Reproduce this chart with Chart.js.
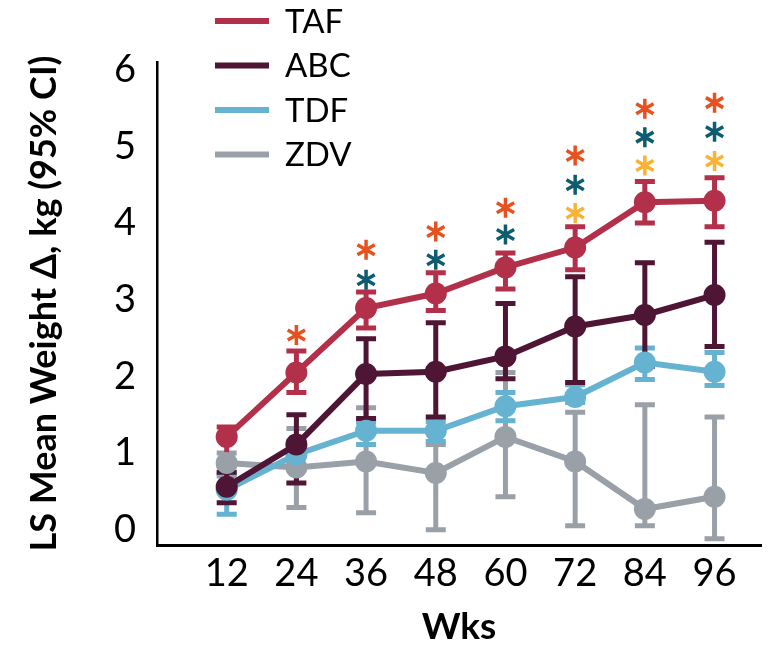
<!DOCTYPE html>
<html>
<head>
<meta charset="utf-8">
<script src="https://cdn.jsdelivr.net/npm/chart.js@4"></script>
<style>
  body { margin: 0; background: #fff; }
  canvas { display: block; }
</style>
</head>
<body>
<canvas id="chart" width="772" height="646"></canvas>
<script>
const weeks = [12, 24, 36, 48, 60, 72, 84, 96];
const yTicks = [0, 1, 2, 3, 4, 5, 6];

const tafMean = [1.21, 2.05, 2.89, 3.08, 3.42, 3.68, 4.27, 4.29];
const tafLow  = [0.83, 1.79, 2.63, 2.86, 3.14, 3.39, 4.00, 3.95];
const tafHigh = [1.34, 2.33, 3.10, 3.35, 3.61, 3.95, 4.54, 4.59];

const abcMean = [0.56, 1.11, 2.03, 2.06, 2.26, 2.65, 2.80, 3.06];
const abcLow  = [0.35, 0.61, 1.45, 1.47, 1.97, 1.92, 2.13, 2.39];
const abcHigh = [0.75, 1.50, 2.49, 2.70, 2.95, 3.30, 3.48, 3.75];

const tdfMean = [0.52, 0.98, 1.29, 1.29, 1.61, 1.73, 2.18, 2.06];
const tdfLow  = [0.20, 0.80, 1.11, 1.15, 1.42, 1.66, 1.96, 1.88];
const tdfHigh = [0.73, 1.15, 1.40, 1.41, 1.79, 1.89, 2.37, 2.31];

const zdvMean = [0.87, 0.81, 0.89, 0.74, 1.21, 0.89, 0.27, 0.43];
const zdvLow  = [0.70, 0.29, 0.22, 0.00, 0.43, 0.05, 0.05, -0.12];
const zdvHigh = [1.00, 1.32, 1.59, 1.11, 2.05, 1.53, 1.63, 1.47];

// significance asterisks, placed at these y values
const starOrange = [null, 2.54, 3.65, 3.89, 4.20, 4.88, 5.49, 5.57];
const starTeal   = [null, null, 3.26, 3.52, 3.85, 4.50, 5.12, 5.19];
const starYellow = [null, null, null, null, null, 4.13, 4.75, 4.81];

const colors = {
  TAF: '#B3304B',
  ABC: '#4E1535',
  TDF: '#66B3D1',
  ZDV: '#9AA0A8'
};
const starColors = ['#E6511F', '#0D5C70', '#F9B234'];

const series = [
  { label: 'TAF', mean: tafMean, low: tafLow, high: tafHigh },
  { label: 'ABC', mean: abcMean, low: abcLow, high: abcHigh },
  { label: 'TDF', mean: tdfMean, low: tdfLow, high: tdfHigh },
  { label: 'ZDV', mean: zdvMean, low: zdvLow, high: zdvHigh }
];

const toPoints = arr => weeks.map((w, i) => ({ x: w, y: arr[i] }));

// error bars go under the lines, back series first
const errorBars = {
  id: 'errorBars',
  beforeDatasetsDraw(chart) {
    const { ctx, scales: { x, y } } = chart;
    ctx.save();
    for (let s = series.length - 1; s >= 0; s--) {
      const d = series[s];
      ctx.strokeStyle = colors[d.label];
      ctx.lineWidth = 5;
      weeks.forEach((w, i) => {
        const px = x.getPixelForValue(w);
        const yl = y.getPixelForValue(d.low[i]);
        const yh = y.getPixelForValue(d.high[i]);
        ctx.beginPath();
        ctx.moveTo(px, yl); ctx.lineTo(px, yh);
        ctx.moveTo(px - 10, yl); ctx.lineTo(px + 10, yl);
        ctx.moveTo(px - 10, yh); ctx.lineTo(px + 10, yh);
        ctx.stroke();
      });
    }
    ctx.restore();
  }
};

const asterisks = {
  id: 'asterisks',
  afterDatasetsDraw(chart) {
    const { ctx, scales: { x, y } } = chart;
    ctx.save();
    ctx.lineWidth = 3.5;
    [starOrange, starTeal, starYellow].forEach((row, k) => {
      ctx.strokeStyle = starColors[k];
      row.forEach((v, i) => {
        if (v === null) return;
        const cx = x.getPixelForValue(weeks[i]);
        const cy = y.getPixelForValue(v);
        const r = 10;
        ctx.beginPath();
        [90, 30, 150].forEach(a => {
          const rad = a * Math.PI / 180;
          ctx.moveTo(cx - r * Math.cos(rad), cy - r * Math.sin(rad));
          ctx.lineTo(cx + r * Math.cos(rad), cy + r * Math.sin(rad));
        });
        ctx.stroke();
      });
    });
    ctx.restore();
  }
};

const sideLegend = {
  id: 'sideLegend',
  afterDraw(chart) {
    const { ctx } = chart;
    ctx.save();
    ctx.font = '33px Lato';
    ctx.textBaseline = 'middle';
    ctx.fillStyle = '#000';
    series.forEach((d, i) => {
      const ly = 21 + i * 44.5;
      ctx.strokeStyle = colors[d.label];
      ctx.lineWidth = 6;
      ctx.beginPath();
      ctx.moveTo(215, ly); ctx.lineTo(269, ly);
      ctx.stroke();
      ctx.fillText(d.label, 285, ly + 1);
    });
    ctx.restore();
  }
};

new Chart(document.getElementById('chart'), {
  type: 'line',
  data: {
    datasets: series.map(d => ({
      label: d.label,
      data: toPoints(d.mean),
      borderColor: colors[d.label],
      backgroundColor: colors[d.label],
      borderWidth: 6,
      pointRadius: 11,
      pointBorderWidth: 0,
      tension: 0
    }))
  },
  options: {
    responsive: false,
    animation: false,
    layout: { padding: { top: 62, right: 10, left: 0, bottom: 0 } },
    plugins: {
      legend: { display: false },
      tooltip: { enabled: false }
    },
    scales: {
      x: {
        type: 'linear',
        min: 0,
        max: 104,
        afterBuildTicks: scale => { scale.ticks = weeks.map(v => ({ value: v })); },
        afterFit: scale => { scale.height = 101; },
        grid: { display: true, color: 'transparent', drawTicks: false },
        border: { display: true, color: '#000', width: 3 },
        ticks: { font: { family: 'Lato', size: 38 }, color: '#000', padding: 6, maxRotation: 0, autoSkip: false },
        title: {
          display: true,
          text: 'Wks',
          font: { family: 'Lato', size: 37, weight: 'bold' },
          color: '#000',
          padding: { top: 0, bottom: -3 }
        }
      },
      y: {
        min: -0.2,
        max: 6.1,
        afterBuildTicks: scale => { scale.ticks = yTicks.map(v => ({ value: v })); },
        afterFit: scale => { scale.width = 157; },
        grid: { display: true, color: 'transparent', drawTicks: false },
        border: { display: true, color: '#000', width: 2.5 },
        ticks: { font: { family: 'Lato', size: 38 }, color: '#000', padding: 21 },
        title: {
          display: true,
          text: 'LS Mean Weight Δ, kg (95% CI)',
          font: { family: 'Lato', size: 36, weight: 'bold' },
          color: '#000',
          padding: { top: 23, bottom: 0 }
        }
      }
    }
  },
  plugins: [errorBars, asterisks, sideLegend]
});
</script>
</body>
</html>
